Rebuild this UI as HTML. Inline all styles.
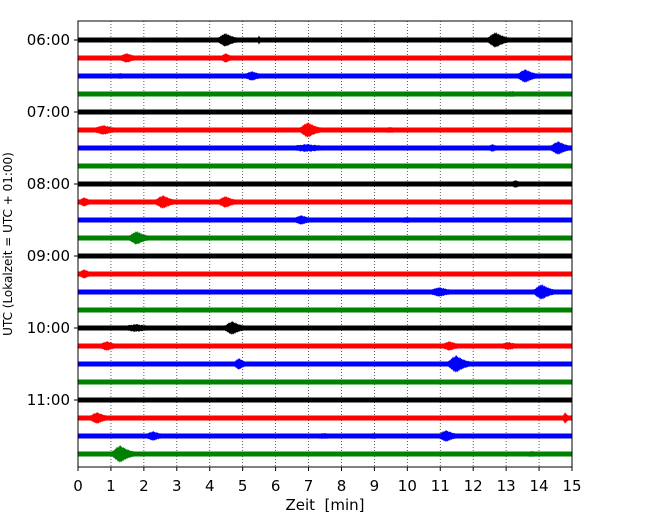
<!DOCTYPE html>
<html><head><meta charset="utf-8"><style>
body{margin:0;background:#fff;}
svg{display:block;font-family:"DejaVu Sans","Liberation Sans",sans-serif;}
</style></head><body>
<svg id="chart" width="650" height="520" viewBox="0 0 650 520" xmlns="http://www.w3.org/2000/svg">
<rect width="650" height="520" fill="#fff"/>
<g id="grid"></g>
<g id="traces"></g>
<g id="axes"></g>
</svg>
<script>
const xTicks = [0,1,2,3,4,5,6,7,8,9,10,11,12,13,14,15];
const hourLabels = ["06:00","07:00","08:00","09:00","10:00","11:00"];
const traceColors = ["#000000","#ff0000","#0000ff","#008000"];
const traceCount = 24;
// events: trace index, minute, amplitude (px half-height), half-width (min)
const eventTrace = [0,0,0,1,1,2,2,2,3,5,5,5,6,6,6,8,9,9,9,10,10,11,13,14,14,16,16,17,17,17,18,18,21,21,22,22,22,22,23,23];
const eventTime  = [4.5,12.7,5.5,1.5,4.5,1.3,5.3,13.6,13.2,0.8,7.0,9.5,7.0,14.6,12.6,13.3,0.2,2.6,4.5,6.8,10.0,1.8,0.2,11.0,14.1,1.8,4.7,0.9,11.3,13.1,4.9,11.5,0.6,14.8,2.3,7.5,9.0,11.2,1.3,13.8];
const eventAmp   = [7,8,5,5,5,3,5,7,3,5,8,3,4,7,4,4,5,7,6,5,3,7,5,5,8,4,7,5,5,4,6,9,6,6,5,3,3,6,9,3];
const eventWidth = [0.3,0.3,0.05,0.3,0.2,0.3,0.3,0.3,0.4,0.4,0.3,0.5,0.8,0.3,0.2,0.2,0.2,0.3,0.3,0.3,0.5,0.3,0.2,0.4,0.3,0.6,0.3,0.3,0.3,0.4,0.2,0.3,0.3,0.1,0.3,0.6,0.4,0.3,0.3,0.4];

const L=78,R=572,T=21,B=467,Y0=40,DY=18;
const xs = m => L + (R-L)*m/15;
const ys = i => Y0 + i*DY;
const NS="http://www.w3.org/2000/svg";
function mk(tag, attrs, parent){const e=document.createElementNS(NS,tag);for(const k in attrs)e.setAttribute(k,attrs[k]);parent.appendChild(e);return e;}
const grid=document.getElementById('grid'),tr=document.getElementById('traces'),ax=document.getElementById('axes');

xTicks.forEach(t=>{
  if(t>0&&t<15){const g=mk('line',{x1:xs(t),x2:xs(t),y1:T,y2:B,stroke:'#333','stroke-width':0.8,'stroke-dasharray':'1,2'},grid);
  
  }
});

for(let i=0;i<traceCount;i++){
  const c=traceColors[i%4];
  const r=mk('rect',{x:L,y:ys(i)-2.5,width:R-L,height:5,fill:c},tr);
  
  
}
const jag=[1,0.8,0.95,0.75,0.9,1,0.8,0.92];
eventTrace.forEach((ti,k)=>{
  const c=traceColors[ti%4], cx=eventTime[k], a=eventAmp[k], w=eventWidth[k];
  const top=[],bot=[];
  let n=0;
  for(let s=-1.6;s<=3;s+=0.05,n++){
    const m=cx+s*w; if(m<0||m>15)continue;
    const e0 = s<0 ? Math.exp(-s*s*1.5) : Math.exp(-s*0.9);
    const env=Math.max(2.5,a*e0*jag[n%jag.length]);
    const env2=Math.max(2.5,a*e0*jag[(n+3)%jag.length]);
    const x=xs(m); top.push(x.toFixed(1)+','+(ys(ti)-env).toFixed(1)); bot.unshift(x.toFixed(1)+','+(ys(ti)+env2).toFixed(1));
  }
  const p=mk('polygon',{points:top.concat(bot).join(' '),fill:c},tr);
  
  
});

const fr=mk('rect',{x:L,y:T,width:R-L,height:B-T,fill:'none',stroke:'#000','stroke-width':1},ax);


xTicks.forEach(t=>{
  mk('line',{x1:xs(t),x2:xs(t),y1:B,y2:B+4,stroke:'#000'},ax);
  const tx=mk('text',{x:xs(t),y:B+24,'text-anchor':'middle','font-size':15},ax);
  tx.textContent=t;
  
  
});
hourLabels.forEach((h,j)=>{
  const y=ys(j*4);
  mk('line',{x1:L-4,x2:L,y1:y,y2:y,stroke:'#000'},ax);
  const tx=mk('text',{x:L-8,y:y+5,'text-anchor':'end','font-size':15},ax);
  tx.textContent=h;
  
  
});
const xl=mk('text',{x:(L+R)/2,y:510,'text-anchor':'middle','font-size':15,style:'white-space:pre'},ax);
xl.textContent='Zeit  [min]';


const yl=mk('text',{x:0,y:0,'text-anchor':'middle','font-size':12,transform:'translate(12,244) rotate(-90)'},ax);
yl.textContent='UTC (Lokalzeit = UTC + 01:00)';


</script>
</body></html>
